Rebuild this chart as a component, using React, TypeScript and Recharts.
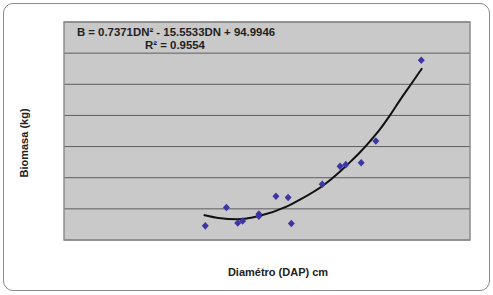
import React from "react";
import {
  CartesianGrid,
  ComposedChart,
  Customized,
  Line,
  ReferenceArea,
  Scatter,
  XAxis,
  YAxis
} from "recharts";

// measured trees: diameter (DAP, cm) and biomass (kg)
const diameters = [8.7, 10.0, 10.7, 11.0, 12.0, 12.0, 13.05, 13.8, 14.0, 15.9, 17.0, 17.35, 18.3, 19.2, 22.0];
const biomass = [9.1, 20.9, 10.9, 12.2, 16.7, 15.3, 28.1, 27.3, 10.6, 35.8, 47.3, 48.4, 49.6, 63.6, 115.4];

// polynomial trendline
const trendD = [8.6, 9.5, 10.7, 12.0, 13.7, 14.5, 16.0, 17.0, 17.5, 18.2, 18.85, 19.45, 20.1, 20.7, 21.4, 22.05];
const trendB = [16.1, 14.2, 13.3, 15.4, 21.4, 25.7, 35.3, 44.0, 48.9, 56.0, 63.5, 71.0, 80.5, 90.0, 100.5, 110.3];

const yTicks = [0, 20, 40, 60, 80, 100, 120, 140];

const equation = "B = 0.7371DN² - 15.5533DN + 94.9946";
const rSquared = "R² = 0.9554";

const points = diameters.map((d, i) => ({ d, b: biomass[i] }));
const trend = trendD.map((d, i) => ({ d, b: trendB[i] }));

const font = "'Liberation Sans', Arial, sans-serif";

function Diamond(props: any) {
  const { cx, cy } = props;
  return (
    <path
      d={`M${cx},${cy - 3.8} L${cx + 3.5},${cy} L${cx},${cy + 3.8} L${cx - 3.5},${cy} Z`}
      fill="#3d35a3"
    />
  );
}

function Labels() {
  return (
    <g fontFamily={font} fontWeight="bold" fill="#222">
      <text x={176} y={36} fontSize={11.4} textAnchor="middle">{equation}</text>
      <text x={175} y={49} fontSize={11.4} textAnchor="middle">{rSquared}</text>
      <text x={278} y={276} fontSize={11} textAnchor="middle">Diamétro (DAP) cm</text>
      <text x={28} y={143} fontSize={11} textAnchor="middle" transform="rotate(-90 28 143)">
        Biomasa (kg)
      </text>
    </g>
  );
}

export default function App() {
  return (
    <div style={{ position: "absolute", left: 0, top: 0, width: 493, height: 295, background: "#fff" }}>
      <div
        style={{
          position: "absolute",
          left: 3,
          top: 3,
          width: 485,
          height: 286,
          border: "1.5px solid #8a8a8a",
          borderRadius: 10
        }}
      />
      <ComposedChart
        width={493}
        height={295}
        margin={{ top: 22, right: 23, bottom: 55, left: 64 }}
        style={{ position: "absolute", left: 0, top: 0 }}
      >
        <CartesianGrid fill="#c9c9c9" stroke="#5e5e5e" vertical={false} />
        <XAxis type="number" dataKey="d" domain={[0, 25]} hide />
        <YAxis type="number" dataKey="b" domain={[0, 140]} ticks={yTicks} hide />
        <ReferenceArea x1={0} x2={25} y1={0} y2={140} fill="none" stroke="#8c8c8c" strokeWidth={1.5} />
        <Line
          data={trend}
          dataKey="b"
          type="monotone"
          stroke="#111"
          strokeWidth={2}
          dot={false}
          isAnimationActive={false}
        />
        <Scatter data={points} dataKey="b" shape={Diamond} isAnimationActive={false} />
        <Customized component={Labels} />
      </ComposedChart>
    </div>
  );
}
